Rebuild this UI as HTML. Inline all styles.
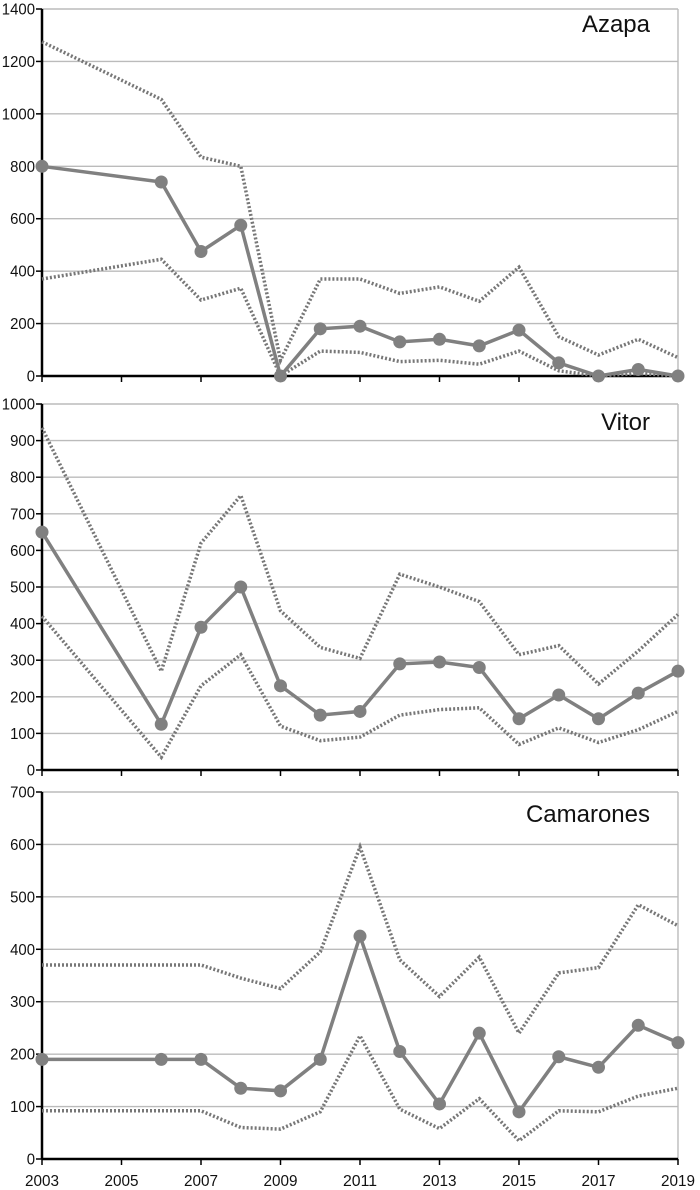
<!DOCTYPE html>
<html><head><meta charset="utf-8"><style>body{margin:0;background:#fff}svg{display:block}text{font-family:"Liberation Sans",sans-serif;fill:#111}</style></head>
<body><svg id="s" width="700" height="1190" xmlns="http://www.w3.org/2000/svg"></svg>
<script>
const yrs=[2003,2006,2007,2008,2009,2010,2011,2012,2013,2014,2015,2016,2017,2018,2019];
const X=y=>42+(y-2003)*39.75;
const P=[
{t:"Azapa",ty:32,y0:376,y1:9,max:1400,step:200,
m:[800,740,475,575,0,180,190,130,140,115,175,50,0,25,0],
u:[1275,1055,835,800,60,370,370,315,340,285,415,150,80,140,70],
l:[370,445,290,335,0,95,90,55,60,45,95,20,0,10,0]},
{t:"Vitor",ty:430,y0:770,y1:404,max:1000,step:100,
m:[650,125,390,500,230,150,160,290,295,280,140,205,140,210,270],
u:[935,270,620,750,435,335,305,535,500,460,315,340,235,325,425],
l:[420,35,230,315,120,80,90,150,165,170,70,115,75,110,160]},
{t:"Camarones",ty:822,y0:1159,y1:792,max:700,step:100,
m:[190,190,190,135,130,190,425,205,105,240,90,195,175,255,222],
u:[370,370,370,345,325,395,595,380,310,385,240,355,365,485,445],
l:[92,92,92,60,57,90,235,95,58,115,35,92,90,120,135]}];
let h="";
P.forEach((p,i)=>{
 const Y=v=>p.y0-(p.y0-p.y1)*v/p.max;
 for(let v=0;v<=p.max;v+=p.step){const y=Y(v);
  if(v>0)h+=`<line x1="42" x2="678" y1="${y}" y2="${y}" stroke="#bbb" stroke-width="1.4"/>`;
  h+=`<line x1="36" x2="42" y1="${y}" y2="${y}" stroke="#000" stroke-width="1.5"/>`;
  h+=`<text x="35" y="${y+5.5}" font-size="16" text-anchor="end" textLength="${String(v).length*8.3}" lengthAdjust="spacingAndGlyphs">${v}</text>`;}
 h+=`<line x1="678" x2="678" y1="${p.y1}" y2="${p.y0}" stroke="#bbb" stroke-width="1.4"/>`;
 for(let yr=2003;yr<=2019;yr+=2){const x=X(yr);h+=`<line x1="${x}" x2="${x}" y1="${p.y0}" y2="${p.y0+6}" stroke="#000" stroke-width="1.5"/>`;
  if(i==2)h+=`<text x="${x}" y="1186" font-size="16" text-anchor="middle" textLength="34" lengthAdjust="spacingAndGlyphs">${yr}</text>`;}
 h+=`<line x1="42" x2="42" y1="${p.y1}" y2="${p.y0}" stroke="#000" stroke-width="2.5"/>`;
 h+=`<line x1="42" x2="678" y1="${p.y0}" y2="${p.y0}" stroke="#000" stroke-width="2.5"/>`;
 const pts=a=>a.map((v,k)=>X(yrs[k]).toFixed(1)+","+Y(v).toFixed(1)).join(" ");
 h+=`<polyline points="${pts(p.u)}" fill="none" stroke="#777" stroke-width="3.5" stroke-dasharray="2,2"/>`;
 h+=`<polyline points="${pts(p.l)}" fill="none" stroke="#777" stroke-width="3.5" stroke-dasharray="2,2"/>`;
 h+=`<polyline points="${pts(p.m)}" fill="none" stroke="#808080" stroke-width="3.5"/>`;
 p.m.forEach((v,k)=>h+=`<circle cx="${X(yrs[k])}" cy="${Y(v)}" r="6.5" fill="#808080"/>`);
 h+=`<text x="650" y="${p.ty}" font-size="24" text-anchor="end">${p.t}</text>`;
});
document.getElementById("s").innerHTML=h;
</script></body></html>
